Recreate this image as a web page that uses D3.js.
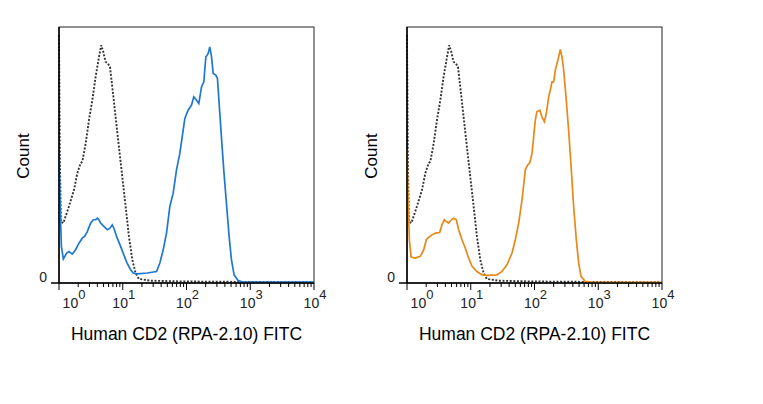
<!DOCTYPE html>
<html>
<head>
<meta charset="utf-8">
<script src="https://cdn.jsdelivr.net/npm/d3@7"></script>
<style>
  body { margin: 0; background: #fff; }
  text { font-family: Arial, "Liberation Sans", sans-serif; }
</style>
</head>
<body>
<div id="chart-area"></div>
<script>
// isotype control (dotted), same in both panels: [fluorescence, % of max count]
const isotype = [
  [1.0, 96.8], [1.03, 50], [1.07, 24], [1.17, 23.4], [1.43, 29.9], [1.72, 36.4],
  [1.94, 42.9], [2.18, 46.8], [2.32, 47.4], [2.62, 54.5], [2.95, 63.6], [3.33, 71.4],
  [3.75, 80.5], [4.24, 88.3], [4.6, 92.9], [4.95, 90.3], [5.38, 86.4], [5.86, 85.7],
  [6.3, 84.4], [6.85, 76.6], [7.72, 64.9], [8.71, 53.2], [9.82, 41.6], [11.1, 29.9],
  [12.5, 18.2], [14.1, 9.1], [15.9, 3.9], [17.9, 1.6], [27.3, 0.9], [91, 0.6],
  [1000, 0.4], [10000, 0.3]
];

// stained sample, left panel (blue)
const stainedBlue = [
  [1.0, 50.6], [1.04, 31.2], [1.09, 14.3], [1.17, 9.4], [1.32, 11.7], [1.43, 12.3],
  [1.62, 11.3], [1.82, 13.0], [2.06, 15.6], [2.32, 17.5], [2.52, 18.2], [2.78, 20.1],
  [3.13, 23.4], [3.45, 24.7], [3.75, 24.7], [3.99, 25.3], [4.24, 24.7], [4.5, 23.4],
  [5.07, 22.1], [5.71, 20.8], [6.3, 21.4], [6.85, 22.7], [7.27, 21.4], [8.0, 18.2],
  [9.25, 14.3], [10.4, 11.0], [11.7, 7.8], [13.3, 5.2], [14.6, 3.9], [16.9, 3.6],
  [24.2, 3.9], [33.9, 4.5], [38.2, 7.8], [43.1, 13.0], [48.6, 19.5], [54.8, 29.9],
  [61.8, 35.1], [69.7, 44.2], [78.6, 50.6], [88.7, 59.7], [94.2, 64.3], [106, 67.5],
  [120, 69.5], [130, 72.7], [144, 71.4], [156, 70.1], [172, 76.6], [187, 78.6],
  [201, 88.3], [218, 89.6], [232, 92.2], [247, 88.3], [262, 81.8], [288, 81.2],
  [306, 79.9], [325, 70.1], [353, 57.1], [384, 44.2], [423, 31.2], [466, 18.2],
  [507, 9.1], [558, 3.2], [645, 1.0], [772, 0.4], [10000, 0.4]
];

// stained sample, right panel (orange)
const stainedOrange = [
  [1.0, 51.9], [1.04, 31.2], [1.09, 16.9], [1.16, 10.1], [1.35, 9.7], [1.62, 10.4],
  [1.83, 13.0], [2.01, 16.9], [2.19, 17.9], [2.47, 18.8], [2.78, 19.5], [3.25, 19.7],
  [3.54, 22.7], [3.85, 24.7], [4.14, 24.0], [4.5, 23.4], [4.96, 24.7], [5.4, 25.3],
  [5.94, 24.7], [6.46, 20.8], [7.29, 16.9], [8.22, 13.6], [9.27, 9.7], [10.5, 6.5],
  [12.5, 4.5], [15.0, 3.2], [18.0, 3.0], [25.8, 3.2], [30.9, 4.5], [37.0, 7.1],
  [44.4, 11.7], [50.0, 16.9], [56.5, 23.4], [63.7, 32.5], [71.8, 44.2], [78.1, 46.1],
  [84.0, 46.8], [91.4, 50.6], [97.0, 57.1], [103, 63.6], [109, 66.9], [121, 67.5],
  [131, 64.9], [143, 63.0], [153, 66.2], [167, 72.7], [177, 75.3], [188, 78.6],
  [200, 78.6], [212, 83.1], [225, 85.7], [239, 88.3], [254, 91.2], [270, 88.3],
  [287, 83.1], [312, 72.7], [343, 59.7], [378, 44.2], [411, 29.9], [453, 16.9],
  [493, 7.8], [536, 2.6], [627, 0.6], [847, 0.3], [10000, 0.3]
];

const decades = [1, 10, 100, 1000, 10000];
const decadeExp = ['0', '1', '2', '3', '4'];
const panels = [
  {left: 59, sample: stainedBlue, color: '#1e78d2'},
  {left: 407, sample: stainedOrange, color: '#e8891a'}
];
const xTitle = 'Human CD2 (RPA-2.10) FITC';

const plotTop = 27, width = 255, height = 256;

const svg = d3.select('#chart-area')
    .append('svg')
    .attr('width', 763)
    .attr('height', 404);

const x = d3.scaleLog().domain([1, 10000]).range([0, width]);
const y = d3.scaleLinear().domain([0, 100]).range([height, 0]);

const line = d3.line()
    .x(d => x(d[0]))
    .y(d => y(d[1]));

panels.forEach((p) => {
    const g = svg.append('g')
        .attr('transform', `translate(${p.left}, ${plotTop})`);

    // frame
    g.append('rect')
        .attr('width', width)
        .attr('height', height)
        .attr('fill', 'none')
        .attr('stroke', '#222')
        .attr('stroke-width', 1);

    g.append('path')
        .datum(isotype)
        .attr('d', line)
        .attr('fill', 'none')
        .attr('stroke', '#333')
        .attr('stroke-width', 1.9)
        .attr('stroke-dasharray', '2,1.6');

    g.append('path')
        .datum(p.sample)
        .attr('d', line)
        .attr('fill', 'none')
        .attr('stroke', p.color)
        .attr('stroke-width', 1.7);

    // x axis with log minor ticks
    const xAxis = g.append('g')
        .attr('transform', `translate(0, ${height})`);
    xAxis.append('line')
        .attr('x1', -8).attr('x2', width)
        .attr('stroke', '#000').attr('stroke-width', 1.5);
    xAxis.selectAll('line.tick')
        .data(x.ticks())
        .enter()
        .append('line')
            .attr('class', 'tick')
            .attr('x1', d => x(d)).attr('x2', d => x(d))
            .attr('y1', 0)
            .attr('y2', d => decades.includes(d) ? 7 : 4)
            .attr('stroke', '#000');

    const labels = xAxis.selectAll('text.lbl')
        .data(decades)
        .enter()
        .append('text')
            .attr('class', 'lbl')
            .attr('x', (d, i) => x(d) + (i === 0 ? 15 : 1))
            .attr('y', 25)
            .attr('text-anchor', 'middle')
            .attr('font-size', '14px')
            .attr('fill', '#222');
    labels.append('tspan').text('10');
    labels.append('tspan')
        .attr('dy', -9)
        .attr('font-size', '13px')
        .text((d, i) => decadeExp[i]);

    // y axis
    g.append('line')
        .attr('x1', 0).attr('x2', 0)
        .attr('y1', 0).attr('y2', height)
        .attr('stroke', '#000').attr('stroke-width', 1.5);
    g.append('text')
        .attr('x', -12)
        .attr('y', y(0) - 1)
        .attr('text-anchor', 'end')
        .attr('font-size', '14px')
        .attr('fill', '#222')
        .text('0');

    g.append('text')
        .attr('transform', `translate(-30, ${129}) rotate(-90)`)
        .attr('text-anchor', 'middle')
        .attr('font-size', '17px')
        .text('Count');

    g.append('text')
        .attr('x', width / 2)
        .attr('y', 313)
        .attr('text-anchor', 'middle')
        .attr('font-size', '17.5px')
        .text(xTitle);
});
</script>
</body>
</html>
